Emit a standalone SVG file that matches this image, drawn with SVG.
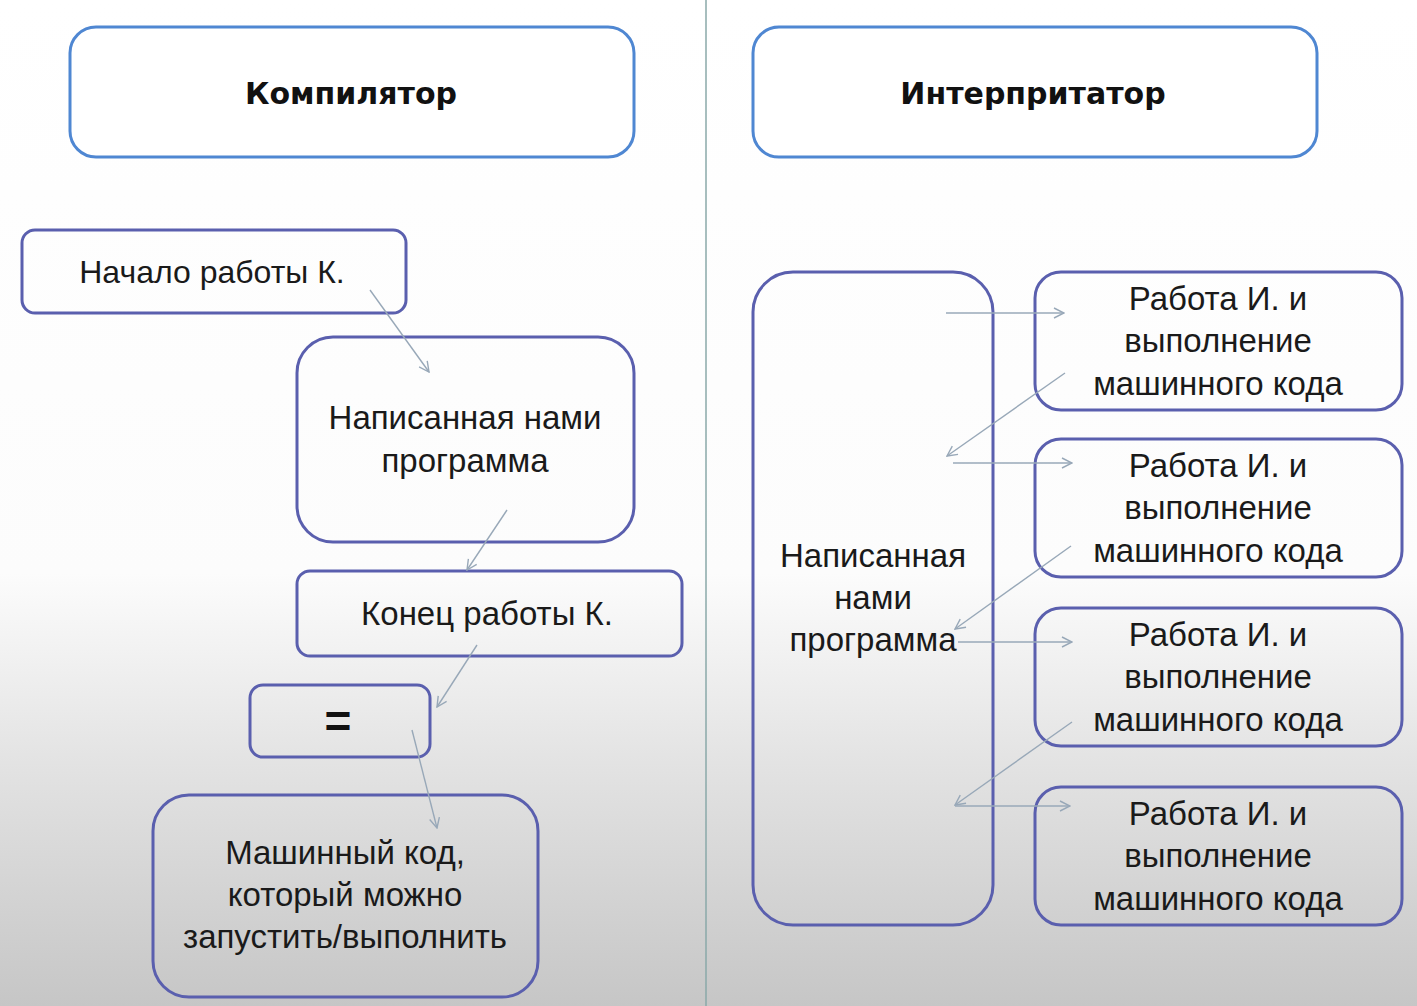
<svg xmlns="http://www.w3.org/2000/svg" width="1417" height="1006" viewBox="0 0 1417 1006">
<defs>
<linearGradient id="bg" x1="0" y1="0" x2="0" y2="1">
<stop offset="0" stop-color="#ffffff"/>
<stop offset="0.57" stop-color="#fcfcfc"/>
<stop offset="0.75" stop-color="#e4e4e4"/>
<stop offset="1" stop-color="#c6c6c6"/>
</linearGradient>
<marker id="arr" viewBox="0 0 12 12" refX="11" refY="6" markerWidth="12" markerHeight="12" markerUnits="userSpaceOnUse" orient="auto">
<path d="M1,1 L11,6 L1,11" fill="none" stroke="#98a8b8" stroke-width="1.4"/>
</marker>
<style>
.title{fill:#ffffff;stroke:#4f87d2;stroke-width:3}
.node{fill:none;stroke:#5a5fae;stroke-width:3}
.tt{font-family:"DejaVu Sans",sans-serif;font-weight:bold;font-size:30px;fill:#111;text-anchor:middle}
.t{font-family:"Liberation Sans",Arial,sans-serif;font-size:33px;fill:#1a1a1a;text-anchor:middle}
.eq{font-family:"Liberation Sans",Arial,sans-serif;font-size:46px;font-weight:bold;fill:#111;text-anchor:middle}
.c{fill:none;stroke:#98a8b8;stroke-width:1.4;marker-end:url(#arr)}
</style>
</defs>
<rect x="0" y="0" width="1417" height="1006" fill="url(#bg)"/>
<line x1="706" y1="0" x2="706" y2="1006" stroke="#8aa8a8" stroke-width="1.5"/>

<g id="compiler-title">
<rect class="title" x="70" y="27" width="564" height="130" rx="26"/>
<text class="tt" x="351" y="104">Компилятор</text>
</g>
<g id="interpreter-title">
<rect class="title" x="753" y="27" width="564" height="130" rx="26"/>
<text class="tt" x="1033" y="104">Интерпритатор</text>
</g>

<g id="start">
<rect class="node" x="22" y="230" width="384" height="83" rx="13"/>
<text class="t" x="212" y="283" style="font-size:32px">Начало работы К.</text>
</g>
<g id="program-left">
<rect class="node" x="297" y="337" width="337" height="205" rx="36"/>
<text class="t" x="465" y="429">Написанная нами</text>
<text class="t" x="465" y="472">программа</text>
</g>
<g id="end">
<rect class="node" x="297" y="571" width="385" height="85" rx="13"/>
<text class="t" x="487" y="625">Конец работы К.</text>
</g>
<g id="equals">
<rect class="node" x="250" y="685" width="180" height="72" rx="13"/>
<text class="eq" x="338" y="737">=</text>
</g>
<g id="machine-code">
<rect class="node" x="153" y="795" width="385" height="202" rx="36"/>
<text class="t" x="345" y="864">Машинный код,</text>
<text class="t" x="345" y="906">который можно</text>
<text class="t" x="345" y="948">запустить/выполнить</text>
</g>

<g id="program-right">
<rect class="node" x="753" y="272" width="240" height="653" rx="40"/>
<text class="t" x="873" y="567">Написанная</text>
<text class="t" x="873" y="609">нами</text>
<text class="t" x="873" y="651">программа</text>
</g>
<g id="run1">
<rect class="node" x="1035" y="272" width="367" height="138" rx="26"/>
<text class="t" x="1218" y="310">Работа И. и</text>
<text class="t" x="1218" y="352">выполнение</text>
<text class="t" x="1218" y="395">машинного кода</text>
</g>
<g id="run2">
<rect class="node" x="1035" y="439" width="367" height="138" rx="26"/>
<text class="t" x="1218" y="477">Работа И. и</text>
<text class="t" x="1218" y="519">выполнение</text>
<text class="t" x="1218" y="562">машинного кода</text>
</g>
<g id="run3">
<rect class="node" x="1035" y="608" width="367" height="138" rx="26"/>
<text class="t" x="1218" y="646">Работа И. и</text>
<text class="t" x="1218" y="688">выполнение</text>
<text class="t" x="1218" y="731">машинного кода</text>
</g>
<g id="run4">
<rect class="node" x="1035" y="787" width="367" height="138" rx="26"/>
<text class="t" x="1218" y="825">Работа И. и</text>
<text class="t" x="1218" y="867">выполнение</text>
<text class="t" x="1218" y="910">машинного кода</text>
</g>

<g id="connectors">
<line class="c" x1="370" y1="290" x2="429" y2="372"/>
<line class="c" x1="507" y1="510" x2="467" y2="570"/>
<line class="c" x1="477" y1="645" x2="437" y2="707"/>
<line class="c" x1="412" y1="730" x2="437" y2="828"/>
<line class="c" x1="946" y1="313" x2="1064" y2="313"/>
<line class="c" x1="1065" y1="373" x2="947" y2="456"/>
<line class="c" x1="953" y1="463" x2="1072" y2="463"/>
<line class="c" x1="1071" y1="546" x2="955" y2="629"/>
<line class="c" x1="958" y1="642" x2="1072" y2="642"/>
<line class="c" x1="1072" y1="722" x2="955" y2="805"/>
<line class="c" x1="955" y1="806" x2="1070" y2="806"/>
</g>
</svg>
